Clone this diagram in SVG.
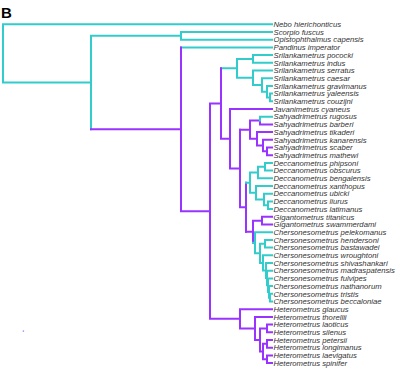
<svg xmlns="http://www.w3.org/2000/svg" width="405" height="371" viewBox="0 0 405 371">
<style>
.c{stroke:#33cccc;fill:none;stroke-width:2;stroke-linecap:square}
.p{stroke:#9933ff;fill:none;stroke-width:2;stroke-linecap:square}
text.t{font-family:"Liberation Sans",Arial,sans-serif;font-style:italic;font-size:7.7px;fill:#333}
</style>
<rect width="405" height="371" fill="#fff"/>
<text x="1" y="18.3" style="font-family:'Liberation Sans',Arial,sans-serif;font-weight:bold;font-size:15px;fill:#000">B</text>
<g id="connectors">
<path class="c" d="M3 24.3V82.57M3 24.3H272M3 82.57H91M91 35.85V129.29M91 35.85H181M181 32V39.7M181 32H272M181 39.7H272M181 47.4H272"/>
<path class="c" d="M221 68.33H237M237 58.95V77.72M237 58.95H253M237 77.72H253M253 55.1V62.8M253 55.1H272M253 62.8H272M253 70.5V84.94M253 70.5H272M253 84.94H262M262 78.2V91.675M262 78.2H272M262 91.675H267M267 85.9V97.45M267 85.9H272M267 97.45H270M270 93.6V101.3M270 93.6H272M270 101.3H272"/>
<path class="p" d="M91 129.29H181M181 47.4V211.17M181 211.17H210M210 103.52V318.83M210 103.52H221M221 68.33V138.72M221 138.72H230M230 109V168.43M230 109H272M230 168.43H240M240 129.69V207.17M240 207.17H246M246 182.63V231.7M210 318.83H240"/>
<path class="p" d="M240 129.69H250M250 120.55V138.84M250 120.55H260M260 120.55V124.4M260 124.4H272M250 138.84H257M257 132.1V145.58M257 132.1H272M257 145.58H263M263 139.8V151.35M263 139.8H272M263 151.35H267M267 147.5V155.2M267 147.5H272M267 155.2H272"/>
<path class="c" d="M260 116.7V120.55M260 116.7H272"/>
<path class="c" d="M246 182.63H250M250 172.53V192.74M250 172.53H258M250 192.74H256M258 166.75V178.3M258 166.75H265M258 178.3H272M265 162.9V170.6M265 162.9H272M265 170.6H272M256 186V199.48M256 186H272M256 199.48H264M264 193.7V205.25M264 193.7H272M264 205.25H268M268 201.4V209.1M268 201.4H272M268 209.1H272"/>
<path class="p" d="M246 231.7H253M253 220.65V242.76M253 220.65H262M262 216.8V224.5M262 216.8H272M262 224.5H272"/>
<path class="c" d="M253 242.76H255M255 232.2V253.32M255 232.2H272M255 253.32H260M260 243.75V262.88M260 243.75H265M260 262.88H263M265 239.9V247.6M265 239.9H272M265 247.6H272M263 255.3V270.46M263 255.3H272M263 270.46H266M266 263V277.92M266 263H272M266 277.92H267M267 270.7V285.14M267 270.7H272M267 285.14H268M268 278.4V291.88M268 278.4H272M268 291.88H269M269 286.1V297.65M269 286.1H272M269 297.65H270M270 293.8V301.5M270 293.8H272M270 301.5H272"/>
<path class="p" d="M240 309.2V328.45M240 309.2H272M240 328.45H255M255 316.9V340M255 316.9H272M255 340H260M260 328.45V351.55M260 328.45H267M260 351.55H263M267 324.6V332.3M267 324.6H272M267 332.3H272M263 343.85V359.25M263 343.85H267M263 359.25H267M267 340V347.7M267 340H272M267 347.7H272M267 355.4V363.1M267 355.4H272M267 363.1H272"/>
</g>
<rect x="22.7" y="330.4" width="1.4" height="1.4" fill="#8f8fff"/>
<g id="tip01"><text class="t" x="273.5" y="27">Nebo hierichonticus</text></g>
<g id="tip02"><text class="t" x="273.5" y="34.7">Scorpio fuscus</text></g>
<g id="tip03"><text class="t" x="273.5" y="42.4">Opistophthalmus capensis</text></g>
<g id="tip04"><text class="t" x="273.5" y="50.1">Pandinus imperator</text></g>
<g id="tip05"><text class="t" x="273.5" y="57.8">Srilankametrus pococki</text></g>
<g id="tip06"><text class="t" x="273.5" y="65.5">Srilankametrus indus</text></g>
<g id="tip07"><text class="t" x="273.5" y="73.2">Srilankametrus serratus</text></g>
<g id="tip08"><text class="t" x="273.5" y="80.9">Srilankametrus caesar</text></g>
<g id="tip09"><text class="t" x="273.5" y="88.6">Srilankametrus gravimanus</text></g>
<g id="tip10"><text class="t" x="273.5" y="96.3">Srilankametrus yaleensis</text></g>
<g id="tip11"><text class="t" x="273.5" y="104">Srilankametrus couzijni</text></g>
<g id="tip12"><text class="t" x="273.5" y="111.7">Javanimetrus cyaneus</text></g>
<g id="tip13"><text class="t" x="273.5" y="119.4">Sahyadrimetrus rugosus</text></g>
<g id="tip14"><text class="t" x="273.5" y="127.1">Sahyadrimetrus barberi</text></g>
<g id="tip15"><text class="t" x="273.5" y="134.8">Sahyadrimetrus tikaderi</text></g>
<g id="tip16"><text class="t" x="273.5" y="142.5">Sahyadrimetrus kanarensis</text></g>
<g id="tip17"><text class="t" x="273.5" y="150.2">Sahyadrimetrus scaber</text></g>
<g id="tip18"><text class="t" x="273.5" y="157.9">Sahyadrimetrus mathewi</text></g>
<g id="tip19"><text class="t" x="273.5" y="165.6">Deccanometrus phipsoni</text></g>
<g id="tip20"><text class="t" x="273.5" y="173.3">Deccanometrus obscurus</text></g>
<g id="tip21"><text class="t" x="273.5" y="181">Deccanometrus bengalensis</text></g>
<g id="tip22"><text class="t" x="273.5" y="188.7">Deccanometrus xanthopus</text></g>
<g id="tip23"><text class="t" x="273.5" y="196.4">Deccanometrus ubicki</text></g>
<g id="tip24"><text class="t" x="273.5" y="204.1">Deccanometrus liurus</text></g>
<g id="tip25"><text class="t" x="273.5" y="211.8">Deccanometrus latimanus</text></g>
<g id="tip26"><text class="t" x="273.5" y="219.5">Gigantometrus titanicus</text></g>
<g id="tip27"><text class="t" x="273.5" y="227.2">Gigantometrus swammerdami</text></g>
<g id="tip28"><text class="t" x="273.5" y="234.9">Chersonesometrus pelekomanus</text></g>
<g id="tip29"><text class="t" x="273.5" y="242.6">Chersonesometrus hendersoni</text></g>
<g id="tip30"><text class="t" x="273.5" y="250.3">Chersonesometrus bastawadei</text></g>
<g id="tip31"><text class="t" x="273.5" y="258">Chersonesometrus wroughtoni</text></g>
<g id="tip32"><text class="t" x="273.5" y="265.7">Chersonesometrus shivashankari</text></g>
<g id="tip33"><text class="t" x="273.5" y="273.4">Chersonesometrus madraspatensis</text></g>
<g id="tip34"><text class="t" x="273.5" y="281.1">Chersonesometrus fulvipes</text></g>
<g id="tip35"><text class="t" x="273.5" y="288.8">Chersonesometrus nathanorum</text></g>
<g id="tip36"><text class="t" x="273.5" y="296.5">Chersonesometrus tristis</text></g>
<g id="tip37"><text class="t" x="273.5" y="304.2">Chersonesometrus beccaloniae</text></g>
<g id="tip38"><text class="t" x="273.5" y="311.9">Heterometrus glaucus</text></g>
<g id="tip39"><text class="t" x="273.5" y="319.6">Heterometrus thorellii</text></g>
<g id="tip40"><text class="t" x="273.5" y="327.3">Heterometrus laoticus</text></g>
<g id="tip41"><text class="t" x="273.5" y="335">Heterometrus silenus</text></g>
<g id="tip42"><text class="t" x="273.5" y="342.7">Heterometrus petersii</text></g>
<g id="tip43"><text class="t" x="273.5" y="350.4">Heterometrus longimanus</text></g>
<g id="tip44"><text class="t" x="273.5" y="358.1">Heterometrus laevigatus</text></g>
<g id="tip45"><text class="t" x="273.5" y="365.8">Heterometrus spinifer</text></g>
</svg>
